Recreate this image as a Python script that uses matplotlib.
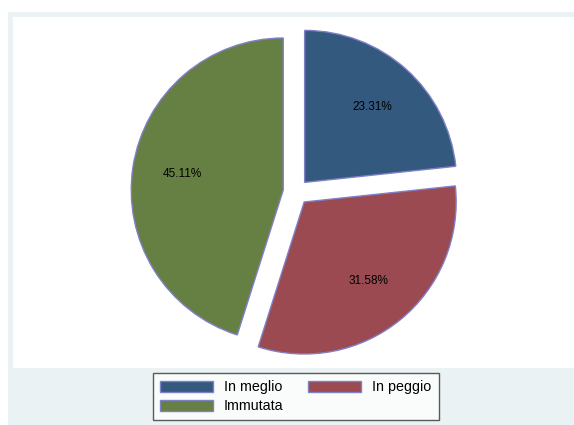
import matplotlib.pyplot as plt
from matplotlib.patches import Rectangle, Patch

plt.rcParams['font.family'] = ['Liberation Sans', 'DejaVu Sans']

categorie = ['In meglio', 'In peggio', 'Immutata']
percentuali = [23.31, 31.58, 45.11]
colori = ['#33597f', '#9a4a50', '#667f43']
bordo = '#8080c8'

W, H = 574, 425
fig = plt.figure(figsize=(W / 100, H / 100), dpi=100)

# sfondo stile Stata
fig.patches.append(Rectangle((8 / W, 0), 1, 1 - 12 / H, transform=fig.transFigure,
                             facecolor='#eaf2f3', edgecolor='none', zorder=-2))
fig.patches.append(Rectangle((13 / W, 1 - 368 / H), 1, (368 - 17) / H, transform=fig.transFigure,
                             facecolor='white', edgecolor='none', zorder=-1))

# torta: centro (296,192) px, raggio 152 px
R = 152
cx, cy = 296, 192
half = 200
ax = fig.add_axes([(cx - half) / W, (H - cy - half) / H, 2 * half / W, 2 * half / H])
ax.pie(percentuali, colors=colori, startangle=90, counterclock=False,
       explode=[0.085] * 3, autopct='%.2f%%', pctdistance=0.67,
       wedgeprops=dict(edgecolor=bordo, linewidth=1.0),
       textprops=dict(fontsize=8.5, color='black'))
ax.set_xlim(-half / R, half / R)
ax.set_ylim(-half / R, half / R)
ax.set_aspect('equal')
ax.axis('off')

# legenda riga per riga (matplotlib riempie per colonne)
ordine = [0, 2, 1]
handles = [Patch(facecolor=colori[i], edgecolor=bordo, linewidth=1.0) for i in ordine]
etichette = [categorie[i] for i in ordine]
leg = fig.legend(handles, etichette, ncol=2, loc='upper left',
                 bbox_to_anchor=(153 / W, 1 - 373 / H), borderaxespad=0,
                 fontsize=10.3, frameon=True, fancybox=False,
                 handlelength=3.7, handleheight=0.84, handletextpad=0.75,
                 columnspacing=1.75, labelspacing=0.35, borderpad=0.5)
leg.get_frame().set_edgecolor('#333333')
leg.get_frame().set_linewidth(1.0)

fig.savefig('out.png', dpi=100)
